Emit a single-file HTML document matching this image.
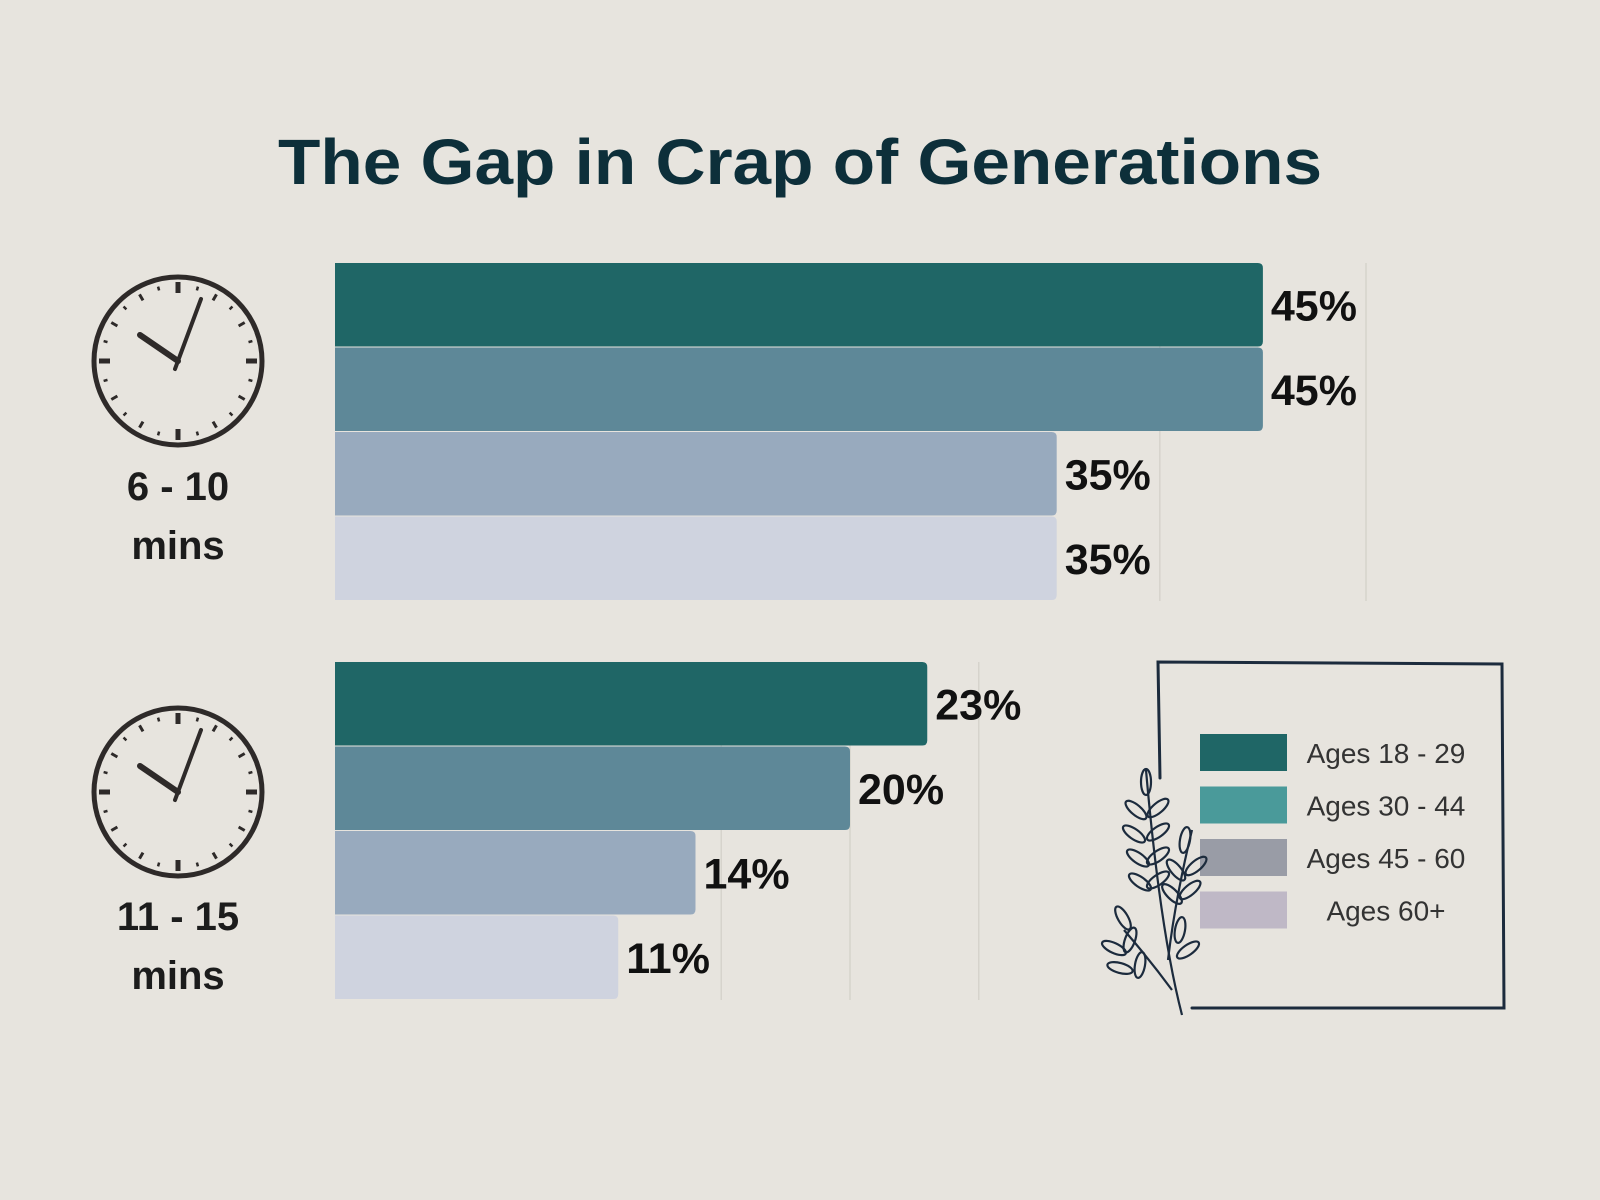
<!DOCTYPE html>
<html><head><meta charset="utf-8"><style>
body{margin:0;background:#e7e4de;}
svg{display:block}
</style></head><body>
<svg id="chart" width="1600" height="1200" viewBox="0 0 1600 1200" xmlns="http://www.w3.org/2000/svg">
<rect width="1600" height="1200" fill="#e7e4de"/>
<text x="800" y="184" text-anchor="middle" textLength="1044" lengthAdjust="spacingAndGlyphs" font-family="Liberation Sans, sans-serif" font-weight="bold" font-size="64" fill="#0d2f3a">The Gap in Crap of Generations</text>
<g id="grid"></g>
<g id="bars"></g>
<g id="clocks"></g>
<g>
<path d="M1160 778 L1158 662 L1502 664 L1504 1008 L1192 1008" fill="none" stroke="#1c2b3d" stroke-width="3" stroke-linecap="round"/>
<g id="legend-items"></g>
<g fill="none" stroke="#1c2b3d" stroke-width="2.2">
<path d="M1182 1015 Q1160 930 1146 770"/>
<path d="M1172 990 Q1150 960 1124 930"/>
<path d="M1168 960 Q1175 900 1192 830"/>
<g id="leaves"></g>
</g>
</g>
</svg>
<script>
const categories = ["6 - 10 mins", "11 - 15 mins"];
const seriesNames = ["Ages 18 - 29", "Ages 30 - 44", "Ages 45 - 60", "Ages 60+"];
const group1Values = [45, 45, 35, 35];
const group2Values = [23, 20, 14, 11];
const group1Ticks = [40, 50];
const group2Ticks = [15, 20, 25];

const NS = "http://www.w3.org/2000/svg";
const svg = document.getElementById('chart');
function mk(tag, attrs, parent){const e=document.createElementNS(NS,tag);for(const k in attrs)e.setAttribute(k,attrs[k]);parent.appendChild(e);return e;}
const barColors=["#1f6666","#5e8898","#98aabe","#cfd3df"];
const legendColors=["#1f6666","#4a9a9a","#999ca6","#bfb8c6"];
const x0=335, rowH=84.5;
const groups=[
 {vals:group1Values,ticks:group1Ticks,top:263,scale:20.62,clockY:361,labelY:[500,559]},
 {vals:group2Values,ticks:group2Ticks,top:662,scale:25.75,clockY:792,labelY:[930,989]}
];
const gridG=document.getElementById('grid'), barsG=document.getElementById('bars'), clockG=document.getElementById('clocks');
groups.forEach((g,gi)=>{
  const xs=v=>x0+v*g.scale;
  const bottom=g.top+rowH*4;
  g.ticks.forEach(t=>{
    const l=mk('line',{x1:xs(t),x2:xs(t),y1:g.top,y2:bottom,stroke:'#d6d3cc','stroke-width':1.5},gridG);
    
    
  });
  g.vals.forEach((v,i)=>{
    const y=g.top+i*rowH;
    const r=mk('path',{d:`M${x0} ${y} H${xs(v)-5} Q${xs(v)} ${y} ${xs(v)} ${y+5} V${y+rowH-6} Q${xs(v)} ${y+rowH-1} ${xs(v)-5} ${y+rowH-1} H${x0} Z`,fill:barColors[i]},barsG);
    
    
    const t=mk('text',{x:xs(v)+8,y:y+rowH/2+15,'font-family':'Liberation Sans, sans-serif','font-weight':'bold','font-size':43,fill:'#111'},barsG);
    t.textContent=v+'%';
    
    
  });
  const cx=178, cy=g.clockY;
  const c=mk('g',{},clockG);
  
  
  mk('circle',{cx:cx,cy:cy,r:84,fill:'none',stroke:'#2e2a29','stroke-width':5},c);
  for(let k=0;k<60;k+=5){
    const a=k/60*2*Math.PI, big=(k%15===0), r1=big?68:70, r2=big?79:77;
    mk('line',{x1:cx+Math.sin(a)*r1,y1:cy-Math.cos(a)*r1,x2:cx+Math.sin(a)*r2,y2:cy-Math.cos(a)*r2,stroke:'#2e2a29','stroke-width':big?5:3},c);
  }
  for(let k=0;k<60;k+=5){
    const a=(k+2.5)/60*2*Math.PI;
    mk('line',{x1:cx+Math.sin(a)*73,y1:cy-Math.cos(a)*73,x2:cx+Math.sin(a)*77,y2:cy-Math.cos(a)*77,stroke:'#2e2a29','stroke-width':2.5},c);
  }
  mk('line',{x1:cx,y1:cy,x2:cx-38,y2:cy-26,stroke:'#2e2a29','stroke-width':6,'stroke-linecap':'round'},c);
  mk('line',{x1:cx-3,y1:cy+8,x2:cx+23,y2:cy-62,stroke:'#2e2a29','stroke-width':4,'stroke-linecap':'round'},c);
  const parts=categories[gi].split(' mins');
  [parts[0],'mins'].forEach((s,j)=>{
    const t=mk('text',{x:cx,y:g.labelY[j],'text-anchor':'middle','font-family':'Liberation Sans, sans-serif','font-weight':'bold','font-size':40,fill:'#1c1c1c'},clockG);
    t.textContent=s;
    
    
  });
});
const lg=document.getElementById('legend-items');
seriesNames.forEach((n,i)=>{
  const y=734+i*52.5;
  const r=mk('rect',{x:1200,y:y,width:87,height:37,fill:legendColors[i]},lg);
  
  
  const t=mk('text',{x:1386,y:y+29,'text-anchor':'middle','font-family':'Liberation Sans, sans-serif','font-size':28,fill:'#333'},lg);
  t.textContent=n;
  
  
});
const leaves=document.getElementById('leaves');
[[1146,782,0],[1136,810,-50],[1158,808,50],[1134,834,-55],[1158,832,55],[1138,858,-55],[1158,856,55],[1140,882,-55],[1158,880,55],[1185,840,10],[1176,870,-40],[1196,866,50],[1172,894,-45],[1190,890,50],[1123,918,-30],[1114,948,-65],[1130,940,20],[1120,968,-75],[1140,965,10],[1180,930,10],[1188,950,55]].forEach(p=>{
  mk('ellipse',{cx:p[0],cy:p[1],rx:5,ry:13,transform:`rotate(${p[2]} ${p[0]} ${p[1]})`},leaves);
});
</script>
</body></html>
